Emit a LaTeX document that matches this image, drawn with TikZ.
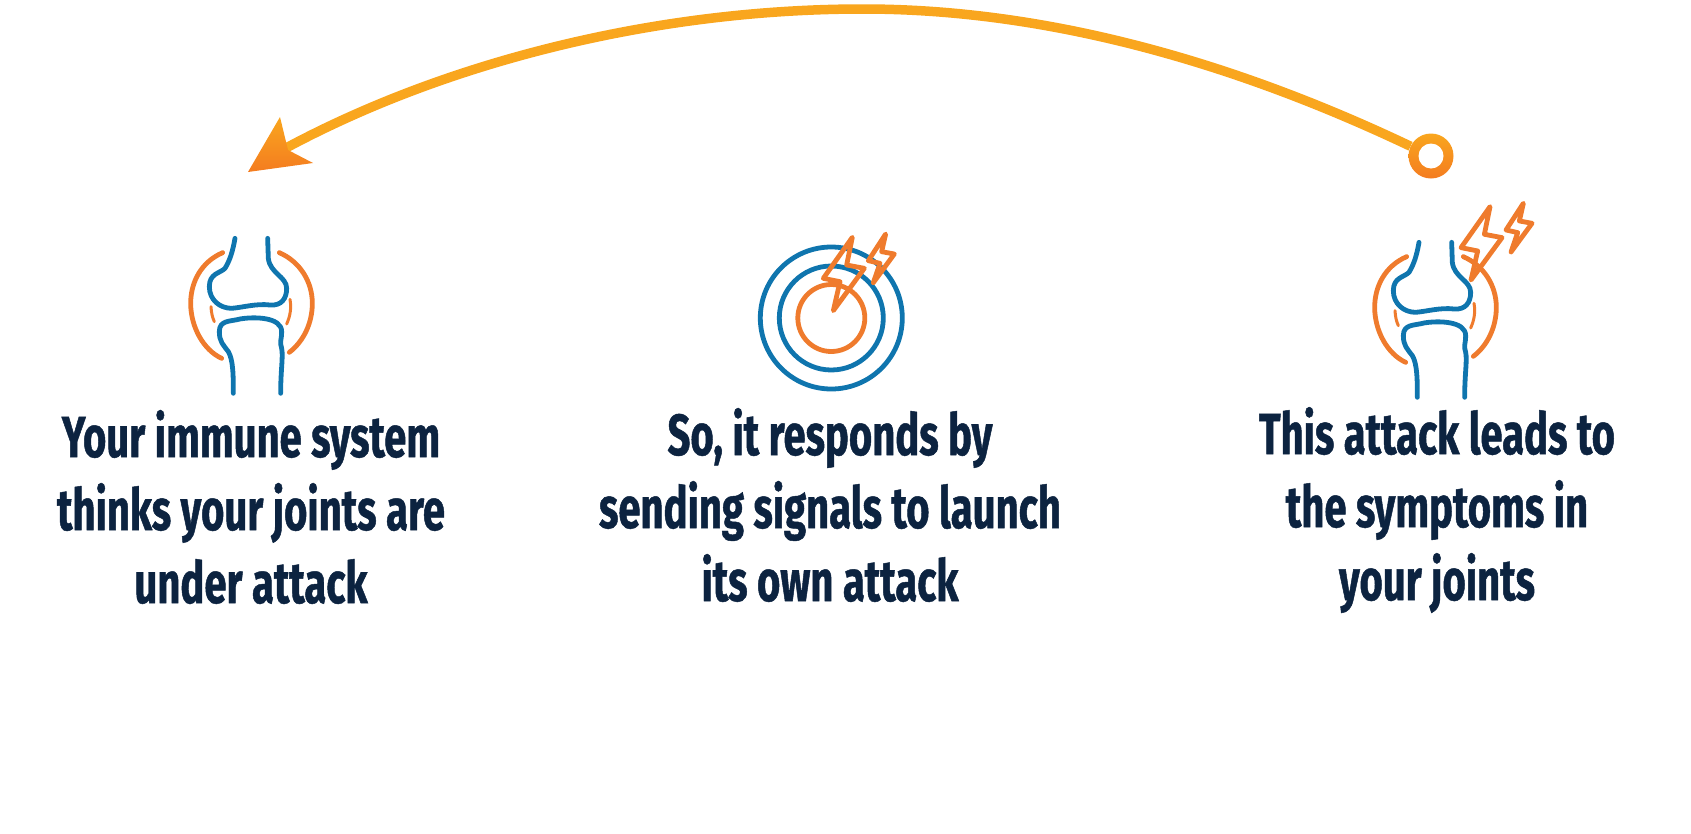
\documentclass[tikz,border=0pt]{standalone}
\usepackage{fontspec}
\setmainfont{Fira Sans}[FakeStretch=0.69,FakeBold=0.8,UprightFont=* Bold]
\definecolor{boneblue}{HTML}{0F75AE}
\definecolor{painorange}{HTML}{EF7B2D}
\definecolor{arrowyellow}{HTML}{F9A61E}
\definecolor{arroworange}{HTML}{F47C20}
\definecolor{textnavy}{HTML}{0C2340}
\tikzset{
  blueline/.style={draw=boneblue,line width=4.8pt,line cap=round,line join=round},
  orangeline/.style={draw=painorange,line width=4.8pt,line cap=round,line join=round},
  caption/.style={text=textnavy,align=center,font=\fontsize{58}{73}\selectfont},
  arrowline/.style={draw=arrowyellow,line width=9.5pt},
  pics/jointicon/.style={code={
    \begin{scope}[x=0.3333pt,y=-0.3333pt]
      \draw[blueline] (195,55) .. controls (188,95) and (180,120) .. (165,145) .. controls (150,160) and (118,160) .. (118,200)
        .. controls (118,240) and (150,265) .. (185,265) .. controls (220,262) and (260,250) .. (300,255) .. controls (335,258) and (350,235) .. (350,205)
        .. controls (350,170) and (300,160) .. (295,115) -- (293,55);
      \draw[blueline] (190,520) .. controls (190,470) and (190,420) .. (175,395) .. controls (160,375) and (148,365) .. (148,335)
        .. controls (148,300) and (180,305) .. (210,297) .. controls (250,290) and (335,290) .. (335,335)
        .. controls (335,360) and (328,365) .. (335,385) .. controls (340,410) and (332,450) .. (332,520);
      \draw[orangeline] (158,98) .. controls (95,125) and (62,185) .. (62,250) .. controls (62,320) and (100,390) .. (155,415);
      \draw[orangeline] (328,98) .. controls (390,125) and (427,185) .. (427,250) .. controls (427,310) and (400,365) .. (358,397);
      \draw[orangeline,line width=3pt] (123,260) .. controls (124,278) and (127,292) .. (133,305);
      \draw[orangeline,line width=3pt] (360,238) .. controls (365,265) and (360,290) .. (350,312);
    \end{scope}
  }},
  pics/boltpair/.style={code={
    \begin{scope}[x=0.3333pt,y=-0.3333pt]
      \draw[orangeline] (337,52) -- (250,175) -- (300,185) -- (280,272) -- (373,145) -- (320,135) -- cycle;
      \draw[orangeline] (437,42) -- (385,122) -- (420,130) -- (400,188) -- (463,102) -- (425,95) -- cycle;
    \end{scope}
  }}
}
\begin{document}
\begin{tikzpicture}[x=1pt,y=-1pt]
  \useasboundingbox (0,0) rectangle (1691,833);
  % arrow
  \node (ring) [circle,minimum size=45pt,inner sep=0pt,top color=arrowyellow,bottom color=arroworange] at (1431,156) {};
  \node (hole) [circle,minimum size=25pt,inner sep=0pt,fill=white] at (ring) {};
  \coordinate (headbase) at (286,148);
  \coordinate (archtop) at (863,9);
  \draw[arrowline] (ring) .. controls (1250,70) and (1060,9) .. (archtop) .. controls (660,9) and (450,60) .. (headbase);
  \shade[top color=arrowyellow,bottom color=arroworange] (248,172) -- (280,117) -- (288,150) -- (313,163) -- cycle;
  % icons
  \pic at (170,220) {jointicon};
  \draw[blueline] (831.3,318) circle (71);
  \draw[blueline] (831.3,318) circle (52);
  \draw[orangeline] (831.3,318) circle (33.5);
  \pic at (740,220) {boltpair};
  \pic at (1354,224) {jointicon};
  \pic at (1377.7,189.3) {boltpair};
  % captions
  \node (immune) [caption] at (251,507) {Your immune system\\thinks your joints are\\under attack};
  \node (respond) [caption] at (830,505) {So, it responds by\\sending signals to launch\\its own attack};
  \node (symptoms) [caption] at (1437,510) {This attack leads to\\the symptoms in\\your joints};
\end{tikzpicture}
\end{document}
